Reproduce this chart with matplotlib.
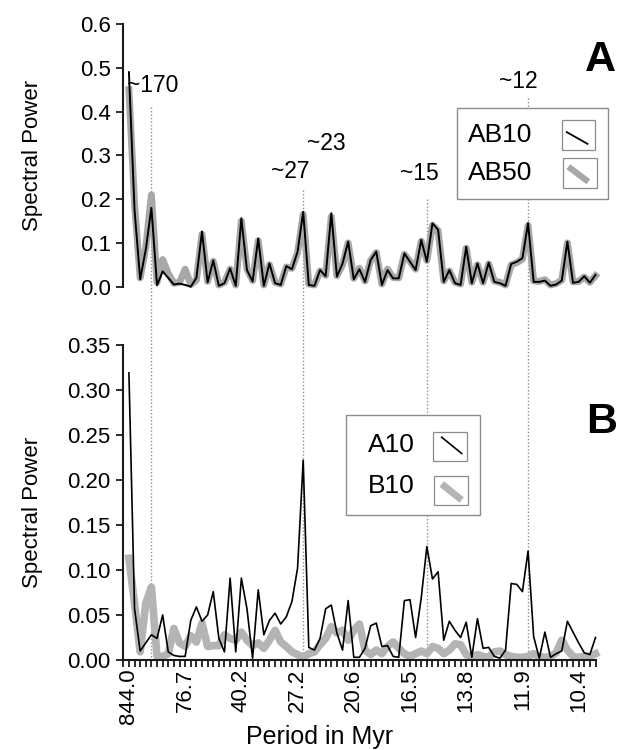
import matplotlib
matplotlib.use("Agg")
import matplotlib.pyplot as plt
from matplotlib.lines import Line2D
from matplotlib.patches import Rectangle
from matplotlib.transforms import blended_transform_factory

plt.rcParams['font.family'] = ['Liberation Sans', 'DejaVu Sans']

# ---------------- data ----------------
period_labels = ["844.0", "76.7", "40.2", "27.2", "20.6", "16.5", "13.8", "11.9", "10.4"]

ab10 = [0.490, 0.175, 0.017, 0.085, 0.180, 0.003, 0.035, 0.020, 0.005, 0.007,
        0.004, 0.000, 0.020, 0.126, 0.010, 0.060, 0.002, 0.008, 0.042, 0.002,
        0.156, 0.038, 0.012, 0.110, 0.002, 0.053, 0.008, 0.004, 0.047, 0.040,
        0.080, 0.171, 0.004, 0.002, 0.038, 0.024, 0.168, 0.023, 0.053, 0.103,
        0.017, 0.040, 0.011, 0.061, 0.080, 0.004, 0.038, 0.019, 0.019, 0.076,
        0.057, 0.038, 0.107, 0.057, 0.145, 0.130, 0.011, 0.038, 0.008, 0.004,
        0.091, 0.008, 0.053, 0.008, 0.055, 0.011, 0.008, 0.002, 0.052, 0.057,
        0.065, 0.145, 0.011, 0.011, 0.014, 0.002, 0.005, 0.014, 0.103, 0.009,
        0.011, 0.024, 0.009, 0.027]

ab50 = [0.450, 0.190, 0.020, 0.090, 0.210, 0.010, 0.062, 0.030, 0.008, 0.010,
        0.040, 0.005, 0.015, 0.120, 0.012, 0.058, 0.004, 0.010, 0.040, 0.004,
        0.150, 0.040, 0.014, 0.105, 0.004, 0.050, 0.010, 0.006, 0.045, 0.042,
        0.078, 0.165, 0.006, 0.004, 0.036, 0.026, 0.160, 0.025, 0.050, 0.100,
        0.019, 0.042, 0.013, 0.060, 0.078, 0.006, 0.040, 0.021, 0.020, 0.074,
        0.058, 0.040, 0.104, 0.060, 0.140, 0.128, 0.013, 0.036, 0.010, 0.006,
        0.088, 0.010, 0.050, 0.010, 0.052, 0.013, 0.010, 0.004, 0.050, 0.055,
        0.063, 0.140, 0.013, 0.012, 0.016, 0.004, 0.007, 0.015, 0.100, 0.011,
        0.012, 0.022, 0.010, 0.025]

a10 = [0.319, 0.057, 0.010, 0.019, 0.028, 0.024, 0.050, 0.009, 0.005, 0.004,
       0.004, 0.044, 0.059, 0.043, 0.050, 0.076, 0.024, 0.009, 0.091, 0.009,
       0.091, 0.057, 0.002, 0.078, 0.028, 0.044, 0.052, 0.040, 0.048, 0.065,
       0.102, 0.222, 0.014, 0.011, 0.024, 0.057, 0.061, 0.030, 0.011, 0.066,
       0.003, 0.003, 0.013, 0.038, 0.041, 0.015, 0.016, 0.004, 0.003, 0.066,
       0.067, 0.025, 0.069, 0.126, 0.090, 0.098, 0.022, 0.043, 0.033, 0.025,
       0.042, 0.003, 0.046, 0.013, 0.014, 0.004, 0.002, 0.011, 0.085, 0.084,
       0.076, 0.121, 0.026, 0.002, 0.031, 0.003, 0.007, 0.010, 0.043, 0.031,
       0.019, 0.008, 0.006, 0.025]

b10 = [0.113, 0.063, 0.009, 0.063, 0.081, 0.004, 0.004, 0.007, 0.035, 0.019,
       0.015, 0.027, 0.020, 0.041, 0.015, 0.016, 0.016, 0.028, 0.024, 0.022,
       0.031, 0.022, 0.016, 0.019, 0.013, 0.022, 0.033, 0.020, 0.015, 0.009,
       0.006, 0.003, 0.007, 0.009, 0.017, 0.024, 0.037, 0.030, 0.033, 0.022,
       0.033, 0.040, 0.011, 0.006, 0.011, 0.007, 0.015, 0.020, 0.013, 0.007,
       0.004, 0.007, 0.010, 0.007, 0.015, 0.013, 0.007, 0.011, 0.018, 0.017,
       0.006, 0.003, 0.006, 0.004, 0.003, 0.009, 0.010, 0.006, 0.004, 0.003,
       0.003, 0.004, 0.007, 0.004, 0.003, 0.004, 0.008, 0.022, 0.011, 0.004,
       0.003, 0.004, 0.004, 0.007]

peak_idx = [4, 31, 53, 71]
peak_labels = ["~170", "~27", "~23", "~15", "~12"]

# ---------------- figure ----------------
W, H = 619, 750
fig = plt.figure(figsize=(W / 100, H / 100), dpi=100)

def fx(px):
    return px / W

def fy(py):
    return 1 - py / H

left, right = 123.3, 595.5
axA = fig.add_axes([fx(left), fy(286.7), fx(right) - fx(left), fy(24) - fy(286.7)])
axB = fig.add_axes([fx(left), fy(660), fx(right) - fx(left), fy(345) - fy(660)])

x = list(range(len(ab10)))
xlim = (-1, 83)

for ax in (axA, axB):
    ax.set_xlim(*xlim)
    ax.patch.set_visible(False)
    for s in ("top", "right"):
        ax.spines[s].set_visible(False)
    ax.spines["left"].set_color("#1a1a1a")
    ax.spines["left"].set_linewidth(1.5)
    ax.tick_params(axis="y", direction="out", length=5, width=1.3,
                   labelsize=16, colors="#1a1a1a", labelcolor="black", pad=4)

# Panel A
axA.plot(x, ab50, color="#a8a8a8", lw=5, solid_joinstyle="round", clip_on=False, zorder=2)
axA.plot(x, ab10, color="black", lw=1.4, clip_on=False, zorder=3)
axA.set_ylim(0, 0.6)
axA.set_yticks([0.0, 0.1, 0.2, 0.3, 0.4, 0.5, 0.6])
axA.set_yticklabels(["0.0", "0.1", "0.2", "0.3", "0.4", "0.5", "0.6"])
axA.spines["bottom"].set_visible(False)
axA.set_xticks([])
axA.set_ylabel("Spectral Power", fontsize=16)
axA.yaxis.set_label_coords(-0.17, 0.5)

# Panel B
axB.plot(x, b10, color="#b4b4b4", lw=5.5, solid_joinstyle="round", clip_on=False, zorder=2)
axB.plot(x, a10, color="black", lw=1.2, clip_on=False, zorder=3)
axB.set_ylim(0, 0.35)
axB.set_yticks([0.0, 0.05, 0.10, 0.15, 0.20, 0.25, 0.30, 0.35])
axB.set_yticklabels(["0.00", "0.05", "0.10", "0.15", "0.20", "0.25", "0.30", "0.35"])
axB.spines["bottom"].set_color("#1a1a1a")
axB.spines["bottom"].set_linewidth(1.5)
axB.set_xticks(list(range(0, 81, 10)))
axB.set_xticklabels(period_labels, rotation=90)
axB.set_xticks(list(range(-1, 84)), minor=True)
axB.tick_params(axis="x", which="both", direction="out", length=5, width=1.3,
                labelsize=16, colors="#1a1a1a", labelcolor="black", pad=1)
axB.set_ylabel("Spectral Power", fontsize=16)
axB.yaxis.set_label_coords(-0.17, 0.47)

fig.text(fx(320), fy(737), "Period in Myr", fontsize=18, ha="center", va="center")

# dotted guide lines spanning both panels
trans = blended_transform_factory(axB.transData, fig.transFigure)
tops = [107, 190, 199, 98]
for i, t in zip(peak_idx, tops):
    fig.add_artist(Line2D([i, i], [fy(t), fy(660)], transform=trans, color="#8f8f8f",
                          lw=1.0, linestyle=(0, (1, 1.5)), zorder=-1))

# peak annotations
ann_pos = [(153, 85), (290, 171), (326, 143), (419, 174), (518, 81)]
for lab, (px, py) in zip(peak_labels, ann_pos):
    fig.text(fx(px), fy(py), lab, fontsize=16.5, ha="center", va="center")

# panel letters
fig.text(fx(600), fy(60), "A", fontsize=31, fontweight="bold", ha="center", va="center")
fig.text(fx(602), fy(422), "B", fontsize=31, fontweight="bold", ha="center", va="center")

# manual Excel-style legends
def rect(x0, y0, x1, y1, ec, lw, z):
    fig.add_artist(Rectangle((fx(x0), fy(y1)), fx(x1) - fx(x0), fy(y0) - fy(y1),
                             transform=fig.transFigure, facecolor="white",
                             edgecolor=ec, lw=lw, zorder=z))

def seg(x0, y0, x1, y1, color, lw, z):
    fig.add_artist(Line2D([fx(x0), fx(x1)], [fy(y0), fy(y1)], transform=fig.transFigure,
                          color=color, lw=lw, solid_capstyle="butt", zorder=z))

# legend A
rect(457.3, 108.3, 608.3, 199.3, "#8c8c8c", 1.0, 5)
fig.text(fx(468), fy(135), "AB10", fontsize=19, ha="left", va="center", zorder=6)
fig.text(fx(468), fy(173), "AB50", fontsize=19, ha="left", va="center", zorder=6)
rect(561.7, 120, 595, 150, "#8c8c8c", 0.9, 6)
seg(566, 131.7, 588.3, 144.3, "black", 1.3, 7)
rect(562.7, 158, 596.7, 188, "#8c8c8c", 0.9, 6)
seg(568.3, 166.7, 588.3, 181.7, "#a8a8a8", 4.5, 7)

# legend B
rect(345.7, 415, 480, 515, "#8c8c8c", 1.0, 5)
fig.text(fx(368), fy(445), "A10", fontsize=19, ha="left", va="center", zorder=6)
fig.text(fx(368), fy(486), "B10", fontsize=19, ha="left", va="center", zorder=6)
rect(432.7, 431.7, 467.3, 460.7, "#8c8c8c", 0.9, 6)
seg(441, 436.7, 462.3, 454, "black", 1.2, 7)
rect(434, 475.7, 468.3, 505, "#8c8c8c", 0.9, 6)
seg(441.7, 484, 461.7, 500, "#b4b4b4", 5, 7)

fig.savefig("out.png", dpi=100)
